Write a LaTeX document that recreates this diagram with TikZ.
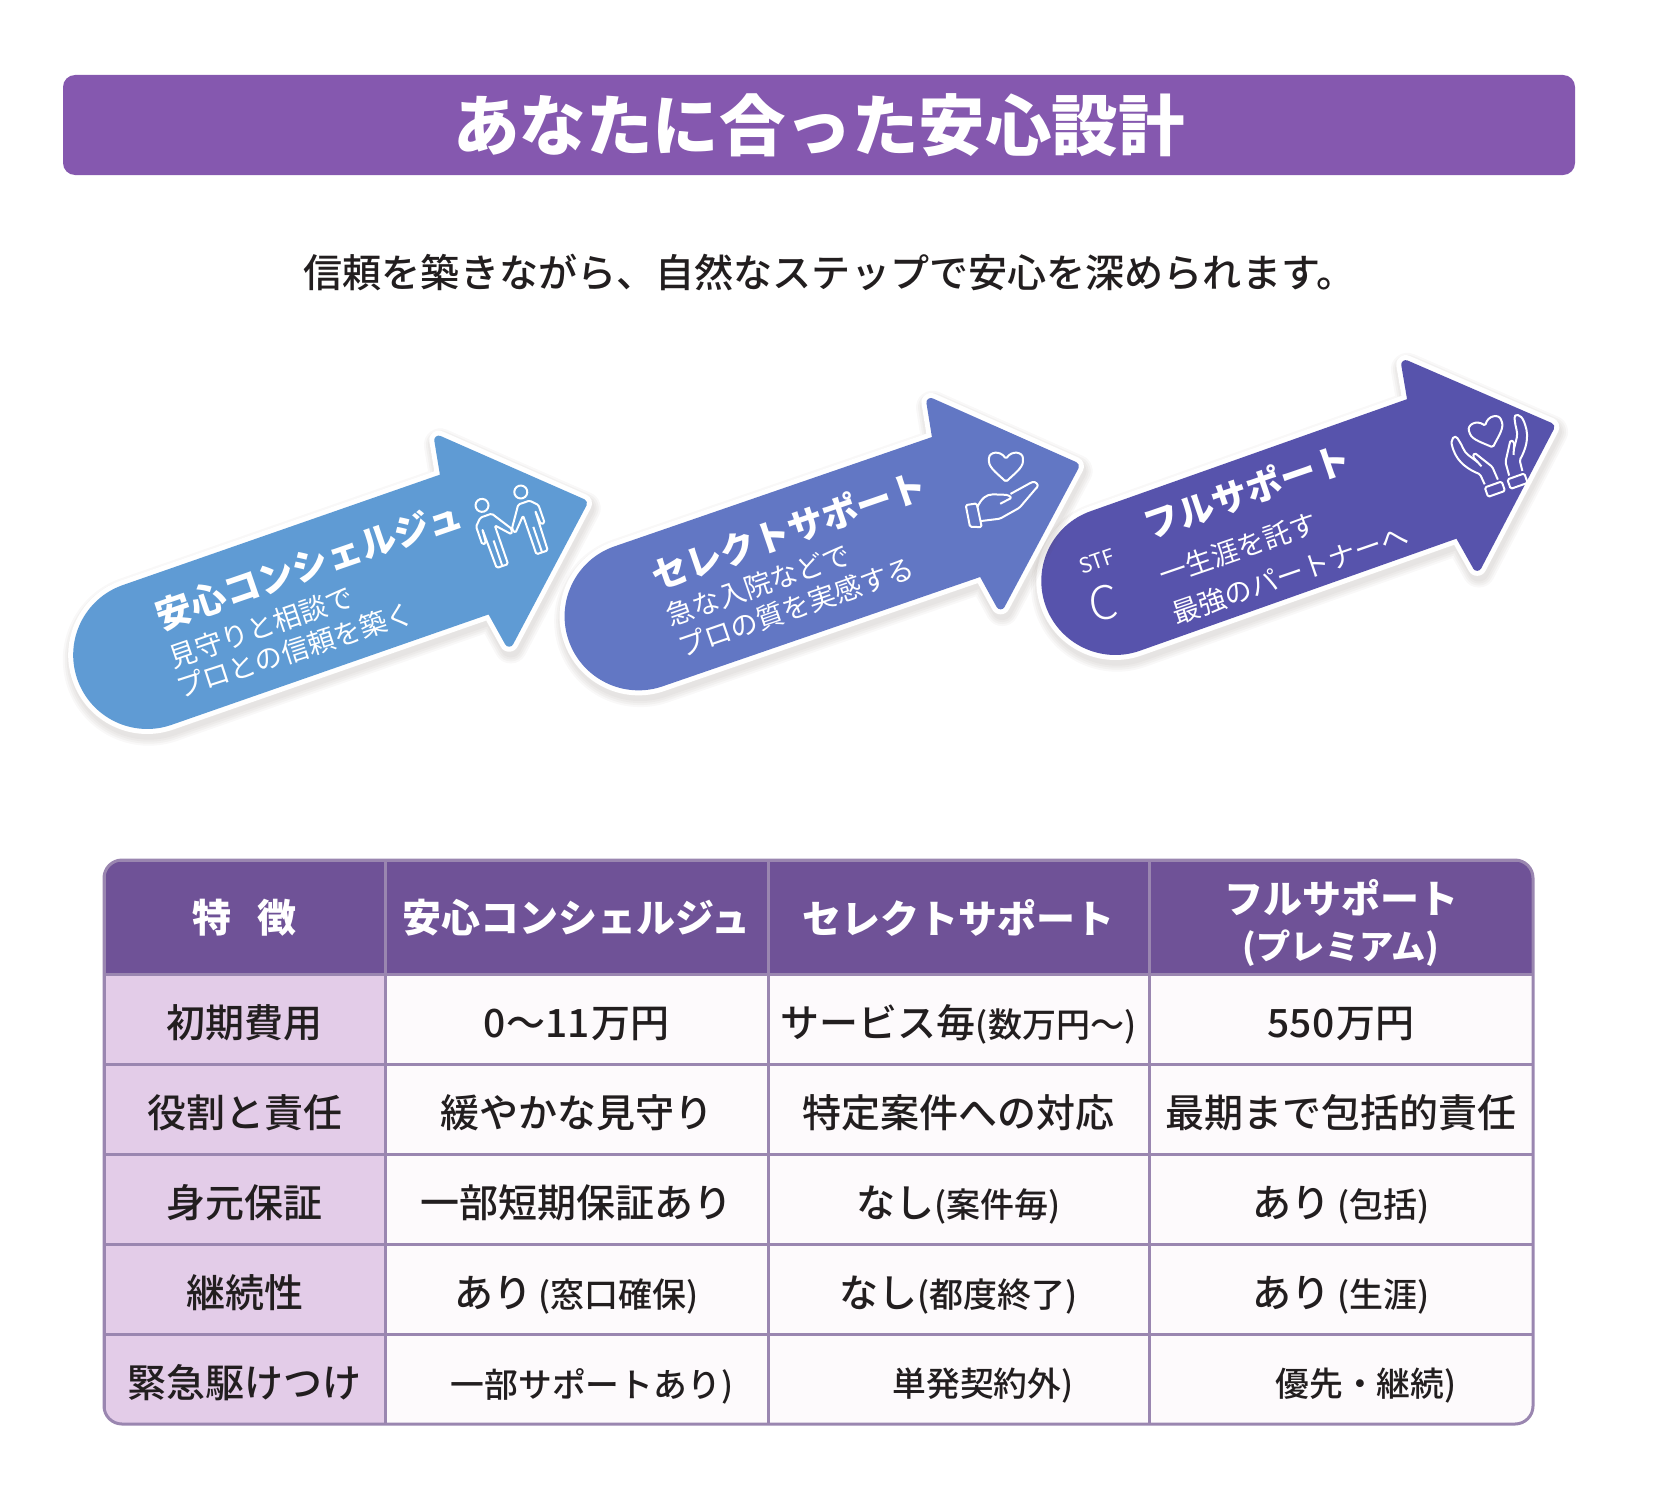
\documentclass[tikz,border=0pt]{standalone}
\usepackage{fontspec}
\setmainfont{Noto Sans CJK JP}
\newfontfamily\medfont{Noto Sans CJK JP Medium}
\newfontfamily\lightfont{Noto Sans CJK JP Light}
\definecolor{titlebar}{HTML}{8558AF}
\definecolor{arrowone}{HTML}{5F9BD4}
\definecolor{arrowtwo}{HTML}{6277C4}
\definecolor{arrowthree}{HTML}{5753AC}
\definecolor{shadowtone}{HTML}{5A4A40}
\definecolor{headfill}{HTML}{6F5297}
\definecolor{sidefill}{HTML}{E3CCE8}
\definecolor{cellfill}{HTML}{FDFAFC}
\definecolor{gridline}{HTML}{9A86B0}
\definecolor{inktext}{HTML}{221E1F}
\newcommand{\fsz}[1]{\fontsize{#1}{#1}\selectfont}
\newcommand{\sm}[1]{{\fsz{34}#1}}
\newcommand{\arrowpath}{(-345,69.5) -- (-5.5,69.5) -- (1,107) -- (116,0) -- (1,-107) -- (-5.5,-69.5) -- (-345,-69.5) arc[start angle=270,end angle=90,radius=69.5] -- cycle}
\newcommand{\heartpath}{(0,-15) .. controls (-7,-8) and (-17,-1) .. (-17,7) .. controls (-17,15) and (-6,17) .. (0,8) .. controls (6,17) and (17,15) .. (17,7) .. controls (17,-1) and (7,-8) .. (0,-15) -- cycle}
\tikzset{
  pics/steparrow/.style={code={
    \foreach \w in {33,29,25,21}{
      \draw[shadowtone,fill=shadowtone,opacity=.04,line width=\w pt,line join=round,shift={(0,-5)}] \arrowpath;
    }
    \draw[white,line width=19pt,line join=round] \arrowpath;
    \draw[#1,fill=#1,line width=9pt,line join=round] \arrowpath;
  }},
  steptitle/.style={text=white,font=\fsz{36}\bfseries,rotate=19,inner sep=0pt},
  stepsub/.style={text=white,font=\fsz{27.5},rotate=19,inner sep=0pt},
  icon/.style={white,line width=2pt,line join=round,rounded corners=1.5pt},
  headcell/.style={draw=gridline,fill=headfill,line width=3pt,text=white,font=\fsz{39}\bfseries,minimum height=115pt,inner sep=0pt},
  sidecell/.style={draw=gridline,fill=sidefill,line width=3pt,text=inktext,font=\medfont\fsz{39},minimum width=281.3pt,minimum height=90pt,inner sep=0pt,text height=40pt,text depth=4pt},
  bodycell/.style={draw=gridline,fill=cellfill,line width=3pt,text=inktext,font=\medfont\fsz{39},minimum height=90pt,inner sep=0pt,text height=40pt,text depth=4pt},
}
\begin{document}
\begin{tikzpicture}[x=1pt,y=1pt]
  \useasboundingbox (0,-1496) rectangle (1654,0);
  % title
  \node[fill=titlebar,rounded corners=12pt,minimum width=1512pt,minimum height=100pt,inner sep=0pt] (bar) at (819,-125) {};
  \node[text=white,font=\fsz{66.5}\bfseries,inner sep=0pt] (title) at (bar.center) {あなたに合った安心設計};
  \node[text=inktext,font=\medfont\fsz{39.1},inner sep=0pt] (lead) at (829.5,-272) {信頼を築きながら、自然なステップで安心を深められます。};
  % arrows, last one first
  \pic[rotate=19.5] at (1440.5,-465.8) {steparrow=arrowthree};
  \pic[rotate=19] at (964.8,-504) {steparrow=arrowtwo};
  \pic[rotate=19.2] at (473,-541.5) {steparrow=arrowone};
  \node[steptitle] (t1) at (309,-565) {安心コンシェルジュ};
  \node[stepsub] (s1) at (261,-627) {見守りと相談で};
  \node[stepsub,rotate=-1] (u1) at (295,-650) {プロとの信頼を築く};
  \node[steptitle] (t2) at (789,-530) {セレクトサポート};
  \node[stepsub] (s2) at (758,-585) {急な入院などで};
  \node[stepsub] (u2) at (796,-607) {プロの質を実感する};
  \node[steptitle] (t3) at (1247,-491) {フルサポート};
  \node[stepsub] (s3) at (1238,-549) {一生涯を託す};
  \node[stepsub] (u3) at (1290,-574) {最強のパートナーへ};
  \node[text=white,font=\fsz{21},rotate=19,inner sep=0pt] (stf) at (1097,-561) {STF};
  \node[text=white,font=\lightfont\fsz{46},rotate=8,inner sep=0pt] (c3) at (1103,-603) {C};
  % people icon
  \begin{scope}[shift={(511.5,-528)},rotate=19,icon]
    \foreach \s in {-1,1}{
      \begin{scope}[xscale=\s]
        \draw (20.5,31) circle[radius=6.5];
        \draw (0,-1) -- (14,20) -- (26,20) -- (33,13) -- (33,-6) -- (29,-6) -- (28,9) -- (27,-33) -- (15,-33) -- (15,8) -- (2,-6) -- cycle;
        \draw (21,-33) -- (21,-6);
      \end{scope}
    }
  \end{scope}
  % hand icon
  \begin{scope}[shift={(1000,-488)},rotate=19,icon]
    \draw[shift={(12.5,18)},rotate=-19] \heartpath;
    \draw (-41,-27) -- (-30,-31) -- (-27,-7) -- (-38,-5) -- cycle;
    \draw (-28,-11) .. controls (-20,-3) and (-15,-2) .. (-8,-4) -- (5,-9) -- (8,-13) -- (-5,-15);
    \draw (8,-9) -- (31,-5) .. controls (36,-5) and (38,-10) .. (34,-12) -- (12,-25) -- (-10,-29) -- (-29,-25);
  \end{scope}
  % hands icon
  \begin{scope}[shift={(1495.5,-455)},rotate=19.5,icon]
    \draw[shift={(0,23)}] \heartpath;
    \foreach \s in {-1,1}{
      \begin{scope}[xscale=\s]
        \draw (3,-37) rectangle (21,-27);
        \draw (20,-24) -- (21,-13) .. controls (30,-5) and (38,5) .. (38,20) .. controls (38,31) and (31,33) .. (30,27) .. controls (28,20) and (29,14) .. (25,8) -- (19,-1);
        \draw (6,-24) -- (7,-10) -- (19,9) -- (22,6) -- (17,-6);
      \end{scope}
    }
  \end{scope}
  % table
  \begin{scope}
    \clip[rounded corners=18pt] (104,-860) rectangle (1533,-1424);
    \node[headcell,minimum width=281.3pt] (h0) at (244.65,-917.5) {特\hspace{26pt}徴};
    \node[headcell,minimum width=382.7pt] (h1) at (576.65,-917.5) {安心コンシェルジュ};
    \node[headcell,minimum width=381pt] (h2) at (958.5,-917.5) {セレクトサポート};
    \node[headcell,minimum width=384pt] (h3) at (1341,-917.5) {};
    \foreach \r/\y/\t/\a/\b/\c in {
      1/1019.8/初期費用/{0〜11\kern2pt 万円}/{サービス毎\sm{(数万円〜)}}/{550\kern2pt 万円},
      2/1109.6/役割と責任/緩やかな見守り/特定案件への対応/最期まで包括的責任,
      3/1199.4/身元保証/一部短期保証あり/{なし\sm{(案件毎)}}/{あり\,\sm{(包括)}},
      4/1289.2/継続性/{あり\,\sm{(窓口確保)}}/{なし\sm{(都度終了)}}/{あり\,\sm{(生涯)}},
      5/1379/緊急駆けつけ/{}/{}/{}}{
      \node[sidecell] (side\r) at (244.65,-\y) {\t};
      \node[bodycell,minimum width=382.7pt] (a\r) at (576.65,-\y) {\a};
      \node[bodycell,minimum width=381pt] (b\r) at (958.5,-\y) {\b};
      \node[bodycell,minimum width=384pt] (c\r) at (1341,-\y) {\c};
    }
  \end{scope}
  \draw[gridline,line width=3pt,rounded corners=18pt] (104,-860) rectangle (1533,-1424);
  \node[text=white,font=\fsz{39}\bfseries,inner sep=0pt] (h3a) at (1341,-898) {フルサポート};
  \node[text=white,font=\fsz{34.3}\bfseries,inner sep=0pt] (h3b) at (1341,-948) {(プレミアム)};
  \node[text=inktext,font=\medfont\fsz{33.8},inner sep=0pt] (a5t) at (592,-1386) {一部サポートあり)};
  \node[text=inktext,font=\medfont\fsz{33.8},inner sep=0pt] (b5t) at (983,-1386) {単発契約外)};
  \node[text=inktext,font=\medfont\fsz{33.8},inner sep=0pt] (c5t) at (1366,-1386) {優先・継続)};
\end{tikzpicture}
\end{document}
